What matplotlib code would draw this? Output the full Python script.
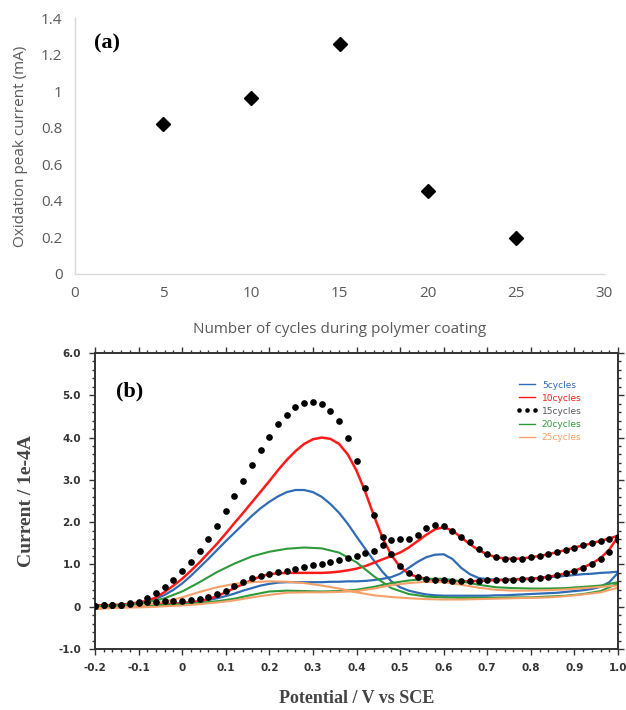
import numpy as np
import matplotlib
matplotlib.use('Agg')
from matplotlib import pyplot as plt
from matplotlib.ticker import MultipleLocator

# ---- panel (a): peak current vs number of coating cycles
cycles = [5, 10, 15, 20, 25]
peak_current = [0.82, 0.96, 1.26, 0.455, 0.197]
a_xticks = [0, 5, 10, 15, 20, 25, 30]
a_yticks = [0, 0.2, 0.4, 0.6, 0.8, 1.0, 1.2, 1.4]
a_ylabels = ['0', '0.2', '0.4', '0.6', '0.8', '1', '1.2', '1.4']

# ---- panel (b): cyclic voltammograms
# forward scan listed -0.2 -> 1.0, reverse scan also listed -0.2 -> 1.0
v_fine = np.round(np.arange(-0.2, 1.0001, 0.02), 2)
v_coarse = np.round(np.arange(-0.2, 1.0001, 0.04), 2)

c15_fwd = [0.02, 0.03, 0.04, 0.05, 0.08, 0.12, 0.20, 0.33, 0.47, 0.63,
           0.84, 1.06, 1.31, 1.60, 1.92, 2.26, 2.61, 2.98, 3.34, 3.70,
           4.01, 4.31, 4.54, 4.72, 4.82, 4.85, 4.80, 4.64, 4.39, 4.00,
           3.44, 2.80, 2.18, 1.64, 1.24, 0.96, 0.79, 0.70, 0.66, 0.63,
           0.62, 0.61, 0.60, 0.60, 0.61, 0.62, 0.63, 0.63, 0.64, 0.65,
           0.66, 0.68, 0.71, 0.74, 0.79, 0.85, 0.92, 1.00, 1.12, 1.30,
           1.58]
c15_rev = [0.02, 0.03, 0.04, 0.05, 0.06, 0.08, 0.10, 0.12, 0.13, 0.14,
           0.14, 0.15, 0.18, 0.23, 0.30, 0.38, 0.48, 0.58, 0.67, 0.72,
           0.77, 0.81, 0.85, 0.89, 0.93, 0.98, 1.02, 1.06, 1.11, 1.16,
           1.21, 1.26, 1.32, 1.45, 1.57, 1.59, 1.60, 1.70, 1.86, 1.93,
           1.90, 1.80, 1.66, 1.52, 1.36, 1.24, 1.18, 1.13, 1.13, 1.14,
           1.17, 1.19, 1.24, 1.29, 1.34, 1.40, 1.45, 1.50, 1.55, 1.60,
           1.64]

c10_fwd = [0.02, 0.03, 0.04, 0.05, 0.07, 0.10, 0.14, 0.22, 0.35, 0.50,
           0.66, 0.85, 1.05, 1.27, 1.49, 1.73, 1.98, 2.22, 2.47, 2.72,
           2.97, 3.23, 3.47, 3.68, 3.85, 3.96, 4.00, 3.97, 3.85, 3.60,
           3.22, 2.72, 2.15, 1.62, 1.22, 0.94, 0.78, 0.70, 0.66, 0.63,
           0.62, 0.61, 0.60, 0.60, 0.61, 0.62, 0.63, 0.63, 0.64, 0.65,
           0.66, 0.68, 0.71, 0.74, 0.79, 0.85, 0.93, 1.02, 1.15, 1.35,
           1.66]
c10_rev = [0.02, 0.02, 0.03, 0.03, 0.04, 0.04, 0.05, 0.05, 0.06, 0.07,
           0.08, 0.10, 0.13, 0.18, 0.25, 0.34, 0.44, 0.54, 0.63, 0.72,
           0.77, 0.79, 0.80, 0.80, 0.80, 0.80, 0.80, 0.81, 0.83, 0.86,
           0.90, 0.96, 1.04, 1.12, 1.20, 1.28, 1.40, 1.55, 1.70, 1.83,
           1.88, 1.80, 1.64, 1.48, 1.34, 1.24, 1.17, 1.14, 1.13, 1.14,
           1.17, 1.20, 1.24, 1.29, 1.34, 1.40, 1.45, 1.50, 1.56, 1.61,
           1.68]

c5_fwd = [0.01, 0.02, 0.03, 0.04, 0.06, 0.08, 0.12, 0.19, 0.28, 0.40,
          0.55, 0.73, 0.93, 1.13, 1.34, 1.55, 1.75, 1.95, 2.15, 2.33,
          2.48, 2.61, 2.71, 2.76, 2.76, 2.71, 2.60, 2.43, 2.22, 1.96,
          1.66, 1.37, 1.09, 0.82, 0.60, 0.46, 0.38, 0.33, 0.29, 0.27,
          0.26, 0.26, 0.26, 0.26, 0.26, 0.26, 0.27, 0.27, 0.28, 0.29,
          0.30, 0.31, 0.32, 0.33, 0.35, 0.37, 0.39, 0.42, 0.47, 0.58,
          0.80]
c5_rev = [0.01, 0.01, 0.02, 0.02, 0.03, 0.03, 0.04, 0.05, 0.06, 0.07,
          0.09, 0.11, 0.13, 0.16, 0.20, 0.25, 0.31, 0.38, 0.44, 0.50,
          0.54, 0.57, 0.58, 0.58, 0.58, 0.58, 0.58, 0.59, 0.59, 0.60,
          0.60, 0.61, 0.63, 0.66, 0.70, 0.78, 0.92, 1.06, 1.17, 1.23,
          1.24, 1.13, 0.92, 0.77, 0.68, 0.65, 0.64, 0.64, 0.65, 0.66,
          0.67, 0.68, 0.70, 0.71, 0.73, 0.75, 0.77, 0.78, 0.80, 0.81,
          0.83]

c20_fwd = [0.01, 0.02, 0.05, 0.10, 0.20, 0.36, 0.58, 0.82, 1.02, 1.19,
           1.30, 1.37, 1.40, 1.38, 1.28, 1.05, 0.72, 0.44, 0.30, 0.24,
           0.22, 0.21, 0.21, 0.21, 0.22, 0.22, 0.24, 0.26, 0.30, 0.37,
           0.55]
c20_rev = [0.00, 0.01, 0.02, 0.03, 0.04, 0.06, 0.09, 0.13, 0.19, 0.28,
           0.36, 0.38, 0.37, 0.36, 0.37, 0.40, 0.47, 0.56, 0.62, 0.66,
           0.66, 0.60, 0.52, 0.46, 0.44, 0.43, 0.43, 0.44, 0.47, 0.50,
           0.58]

c25_fwd = [-0.05, -0.03, 0.00, 0.05, 0.12, 0.22, 0.35, 0.46, 0.54, 0.58,
           0.60, 0.59, 0.56, 0.50, 0.43, 0.34, 0.27, 0.23, 0.20, 0.18,
           0.17, 0.17, 0.18, 0.19, 0.20, 0.21, 0.22, 0.25, 0.29, 0.34,
           0.45]
c25_rev = [-0.04, -0.03, -0.02, -0.01, 0.01, 0.03, 0.06, 0.10, 0.15, 0.22,
           0.28, 0.33, 0.34, 0.34, 0.35, 0.37, 0.43, 0.51, 0.56, 0.59,
           0.58, 0.52, 0.45, 0.40, 0.38, 0.38, 0.39, 0.41, 0.44, 0.47,
           0.50]

b_xticks = [-0.2, -0.1, 0, 0.1, 0.2, 0.3, 0.4, 0.5, 0.6, 0.7, 0.8, 0.9, 1.0]
b_xlabels = ['-0.2', '-0.1', '0', '0.1', '0.2', '0.3', '0.4', '0.5', '0.6',
             '0.7', '0.8', '0.9', '1.0']
b_yticks = [-1, 0, 1, 2, 3, 4, 5, 6]
b_ylabels = ['-1.0', '0', '1.0', '2.0', '3.0', '4.0', '5.0', '6.0']


def loop(v, fwd, rev):
    # forward scan then reverse scan back to the start
    x = np.concatenate([v, v[::-1]])
    y = np.concatenate([fwd, rev[::-1]])
    return x, y


fig = plt.figure(figsize=(6.26, 7.10), dpi=100)

# ---------------- (a)
grey = '#595959'
axa = fig.add_axes([75 / 626, 1 - 274 / 710, 529 / 626, 256 / 710])
axa.plot(cycles, peak_current, 'D', color='black', ms=7, zorder=3)
axa.set_xlim(0, 30)
axa.set_ylim(0, 1.4)
axa.set_xticks(a_xticks)
axa.set_yticks(a_yticks, a_ylabels)
for s in ['top', 'right']:
    axa.spines[s].set_visible(False)
for s in ['left', 'bottom']:
    axa.spines[s].set_color('#d9d9d9')
    axa.spines[s].set_linewidth(1.0)
axa.tick_params(length=0, labelsize=11, labelcolor=grey, pad=9)
for lab in axa.get_xticklabels() + axa.get_yticklabels():
    lab.set_family('Open Sans')
axa.set_xlabel('Number of cycles during polymer coating', fontsize=11,
               color=grey, family='Open Sans', labelpad=15)
axa.set_ylabel('Oxidation peak current (mA)', fontsize=11, color=grey,
               family='Open Sans', labelpad=9)
axa.text(0.035, 0.9, '(a)', transform=axa.transAxes, fontsize=16,
         fontweight='bold', family='Liberation Serif', va='center')

# ---------------- (b)
axb = fig.add_axes([95 / 626, 1 - 649 / 710, 523 / 626, 296 / 710])
col5, col10, col20, col25 = '#2f6cb5', '#ff1a1a', '#2e9a3a', '#f5a068'

x, y = loop(v_fine, c5_fwd, c5_rev)
axb.plot(x, y, color=col5, lw=1.6, label='5cycles')
x, y = loop(v_fine, c10_fwd, c10_rev)
axb.plot(x, y, color=col10, lw=1.8, label='10cycles')
x, y = loop(v_fine, c15_fwd, c15_rev)
axb.plot(x, y, 'o', color='black', ms=3.8, label='15cycles', zorder=4)
x, y = loop(v_coarse, c20_fwd, c20_rev)
axb.plot(x, y, color=col20, lw=1.5, label='20cycles')
x, y = loop(v_coarse, c25_fwd, c25_rev)
axb.plot(x, y, color=col25, lw=1.5, label='25cycles')

axb.set_xlim(-0.2, 1.0)
axb.set_ylim(-1.0, 6.0)
axb.set_xticks(b_xticks, b_xlabels)
axb.set_yticks(b_yticks, b_ylabels)
axb.xaxis.set_minor_locator(MultipleLocator(0.02))
axb.yaxis.set_minor_locator(MultipleLocator(0.2))
axb.tick_params(which='both', direction='out', top=True, right=True,
                colors='#333333', width=1.0)
axb.tick_params(which='major', length=4, labelsize=7.5, pad=6)
axb.tick_params(which='minor', length=2)
for lab in axb.get_xticklabels() + axb.get_yticklabels():
    lab.set_family('Liberation Sans Narrow')
    lab.set_fontweight('bold')
    lab.set_color('#333333')
for s in axb.spines.values():
    s.set_linewidth(1.4)
    s.set_color('#333333')
axb.set_xlabel('Potential / V vs SCE', fontsize=13, fontweight='bold',
               family='Liberation Serif', color='#444444', labelpad=12)
axb.set_ylabel('Current / 1e-4A', fontsize=14, fontweight='bold',
               family='Liberation Serif', color='#444444', labelpad=17)
axb.text(0.04, 0.87, '(b)', transform=axb.transAxes, fontsize=16,
         fontweight='bold', family='Liberation Serif', va='center')

leg = axb.legend(loc='upper left', bbox_to_anchor=(512 / 626, 1 - 376 / 710),
                 bbox_transform=fig.transFigure, frameon=False, fontsize=6.5,
                 handlelength=2.4, handletextpad=0.4, labelspacing=0.45,
                 borderpad=0, numpoints=3, markerscale=0.6,
                 labelcolor=[col5, col10, '#555566', col20, col25])
for h in leg.get_lines():
    h.set_linewidth(1.0)

fig.savefig('out.png', dpi=100)
